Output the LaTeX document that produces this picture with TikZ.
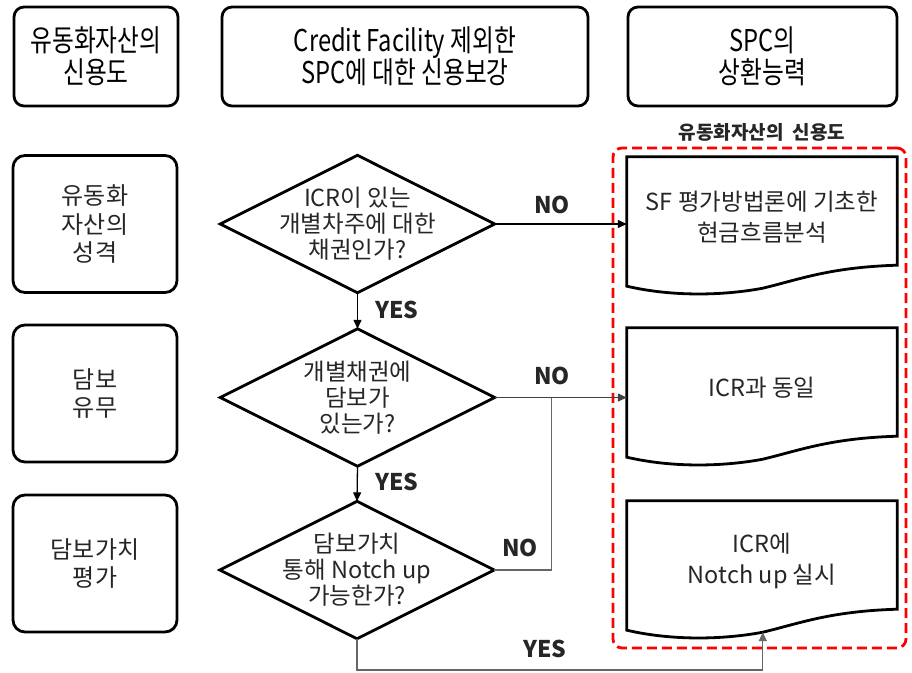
\documentclass[tikz,border=0pt]{standalone}
\usepackage{fontspec}
\setmainfont{Noto Sans CJK KR}
\newfontfamily\hdrfont[FakeStretch=0.79]{Noto Sans CJK KR}
\usetikzlibrary{arrows.meta,calc}
\definecolor{txt}{HTML}{262626}
\newcommand\docshape[1]{%
  \draw[shapeline] (#1.north west) -- (#1.north east) -- ($(#1.south east)+(0,-12)$)
    .. controls ($(#1.south east)+(-67,-10)$) and ($(#1.south east)+(-97,2)$) .. ($(#1.south west)+(136,11)$)
    .. controls ($(#1.south west)+(93,19)$) and ($(#1.south west)+(43,19)$) .. ($(#1.south west)+(0,9)$) -- cycle;}
\begin{document}
\begin{tikzpicture}[x=1pt,y=-1pt,
  hdr/.style={draw, line width=2.8pt, rounded corners=10pt, minimum height=99pt, inner sep=0pt, align=center, font=\hdrfont\fontsize{30}{32}\selectfont},
  side/.style={draw, line width=2.8pt, rounded corners=12pt, minimum width=164pt, minimum height=137pt, inner sep=0pt, align=center, font=\fontsize{24}{28.5}\selectfont, text=txt},
  dec/.style={minimum width=274pt, minimum height=137pt, inner sep=0pt, align=center, font=\fontsize{23.5}{26}\selectfont, text=txt},
  doc/.style={minimum width=270pt, minimum height=120pt, inner sep=0pt, align=center, font=\fontsize{23.5}{31}\selectfont, text=txt},
  shapeline/.style={line width=2.8pt, line join=miter},
  conn/.style={line width=1.3pt, -{Triangle[length=9pt,width=8pt]}},
  gline/.style={line width=1.3pt, draw=black!60},
  lbl/.style={font=\bfseries\fontsize{23}{26}\selectfont, text=txt},
]
\useasboundingbox (0,0) rectangle (912,672);

% headers
\node[hdr, minimum width=164pt] (h1) at (96,56.5) {유동화자산의\\신용도};
\node[hdr, minimum width=366pt] (h2) at (405,56.5) {Credit Facility 제외한\\SPC에 대한 신용보강};
\node[hdr, minimum width=269pt] (h3) at (762.5,56.5) {SPC의\\상환능력};

% left column
\node[side] (s1) at (95,224) {유동화\\자산의\\성격};
\node[side] (s2) at (95,393.5) {담보\\유무};
\node[side] (s3) at (95,563.5) {담보가치\\평가};

% red group
\node[draw=red, line width=2.8pt, dash pattern=on 10pt off 5pt, rounded corners=9pt, minimum width=293pt, minimum height=500pt, inner sep=0pt] (grp) at (759.5,398) {};
\node[font=\bfseries\fontsize{19}{21}\selectfont, text=txt] (grplbl) at (762,132) {유동화자산의~~신용도};

% decisions
\node[dec] (q1) at (357.5,224) {ICR이 있는\\개별차주에 대한\\채권인가?};
\node[dec] (q2) at (357.5,397.5) {개별채권에\\담보가\\있는가?};
\node[dec] (q3) at (357,570) {담보가치\\통해 Notch up\\가능한가?};
\foreach \n in {q1,q2,q3}{
  \draw[shapeline] (\n.north) -- (\n.east) -- (\n.south) -- (\n.west) -- cycle;
}

% documents
\node[doc] (d1) at (762,217) {SF 평가방법론에 기초한\\현금흐름분석};
\node[doc] (d2) at (762,388) {ICR과 동일};
\node[doc] (d3) at (762,561) {ICR에\\Notch up 실시};
\docshape{d1}
\docshape{d2}
\docshape{d3}

% connectors
\coordinate (d3in) at ($(d3.south west)+(136,11)$);
\coordinate (j) at ($(q2.east)+(57,0)$);
\coordinate (bot) at (0,670);
\draw[conn] (q1.east) -- (q1.east -| d1.west);
\draw[conn] (q1.south) -- (q2.north);
\draw[conn] (q2.south) -- (q3.north);
\draw[conn, color=black!75] (q2.east) -- (q2.east -| d2.west);
\draw[gline] (q3.east) -| (j);
\draw[conn, color=black!60] (q3.south) -- (q3.south |- bot) -| (d3in);

% labels
\node[lbl] (no1) at (552,205) {NO};
\node[lbl] (no2) at (552,376) {NO};
\node[lbl] (no3) at (520,548) {NO};
\node[lbl] (yes1) at (397,310) {YES};
\node[lbl] (yes2) at (397,482) {YES};
\node[lbl] (yes3) at (545,649) {YES};
\end{tikzpicture}
\end{document}
